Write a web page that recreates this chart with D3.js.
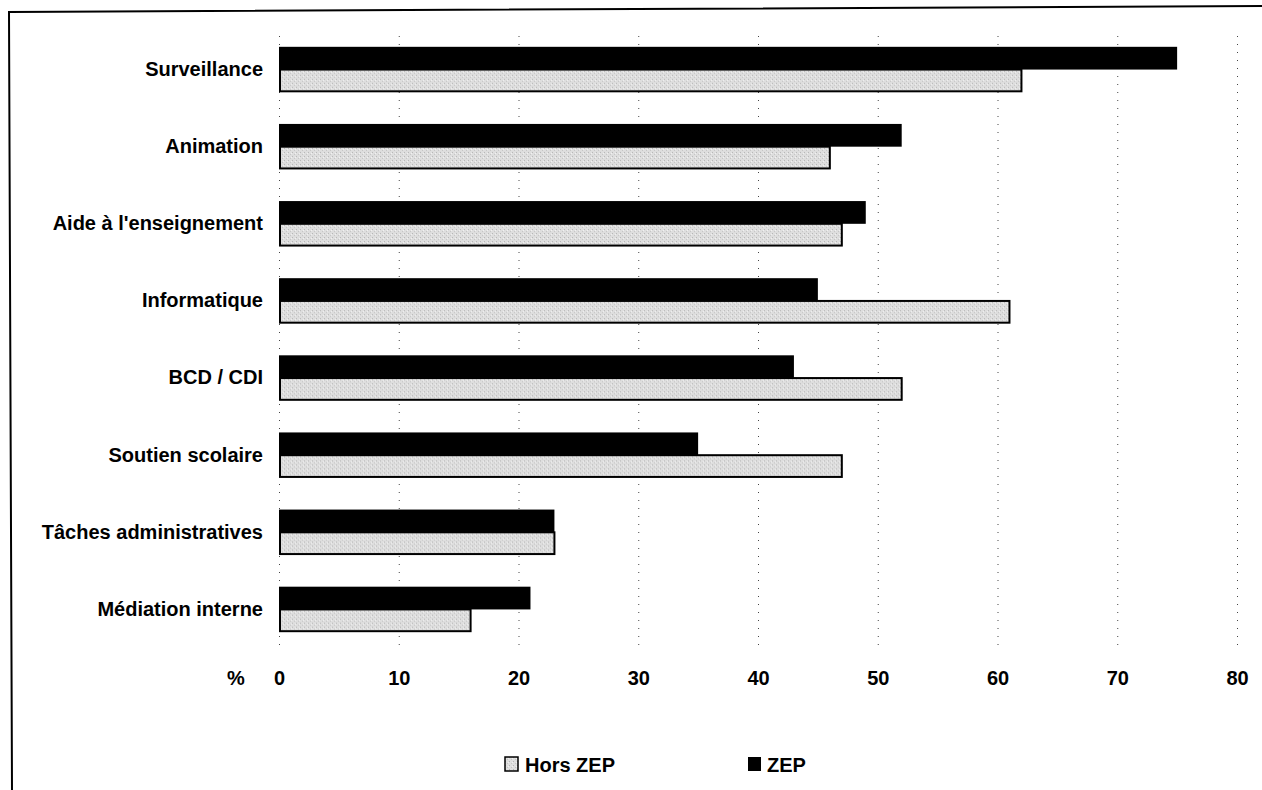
<!DOCTYPE html>
<html>
<head>
<meta charset="utf-8">
<script src="https://cdn.jsdelivr.net/npm/d3@7"></script>
<style>
  html, body { margin: 0; padding: 0; background: #fff; }
  svg { display: block; }
  text { font-family: "Liberation Sans", Arial, Helvetica, sans-serif; font-weight: bold; fill: #000; }
</style>
</head>
<body>
<svg id="chart" width="1262" height="790"></svg>
<script>
// ---- data ----
const categories = ["Surveillance", "Animation", "Aide à l'enseignement", "Informatique",
                    "BCD / CDI", "Soutien scolaire", "Tâches administratives", "Médiation interne"];
const horsZep = [62, 46, 47, 61, 52, 47, 23, 16];
const zep     = [75, 52, 49, 45, 43, 35, 23, 21];
const xTicks  = [0, 10, 20, 30, 40, 50, 60, 70, 80];
const seriesNames = ["Hors ZEP", "ZEP"];
const unitLabel = "%";

// ---- setup ----
const svg = d3.select("#chart");
const W = 1262, H = 790;

const x = d3.scaleLinear().domain([0, 80]).range([279, 1237]);
const y = d3.scaleBand().domain(categories).range([31, 648]).paddingInner(0.41).paddingOuter(0.205);
const ySub = d3.scaleBand().domain(["ZEP", "Hors ZEP"]).range([0, y.bandwidth()]);

// pattern for light grey speckled bars
const defs = svg.append("defs");
const pat = defs.append("pattern").attr("id", "speckle").attr("patternUnits", "userSpaceOnUse")
  .attr("width", 4).attr("height", 4);
pat.append("rect").attr("width", 4).attr("height", 4).attr("fill", "#dedede");
pat.append("rect").attr("x", 0).attr("y", 0).attr("width", 1).attr("height", 1).attr("fill", "#b5b5b5");
pat.append("rect").attr("x", 2).attr("y", 2).attr("width", 1).attr("height", 1).attr("fill", "#c4c4c4");
pat.append("rect").attr("x", 3).attr("y", 1).attr("width", 1).attr("height", 1).attr("fill", "#f2f2f2");

// outer frame (scanned, slightly tilted)
svg.append("path")
  .attr("d", "M1262,6 L9,12 L12,790")
  .attr("fill", "none").attr("stroke", "#000").attr("stroke-width", 2);

// gridlines
const gridTop = 32, gridBottom = 645;
svg.append("g")
  .attr("transform", `translate(0,${gridBottom})`)
  .call(d3.axisBottom(x).tickValues(xTicks).tickSize(-(gridBottom - gridTop)).tickFormat(""))
  .call(g => g.select(".domain").remove())
  .call(g => g.selectAll("line").attr("stroke", "#444").attr("stroke-width", 1).attr("stroke-dasharray", "1,7"));

// bars
const rows = categories.map((c, i) => ({ cat: c, "Hors ZEP": horsZep[i], "ZEP": zep[i] }));
const groups = svg.append("g").selectAll("g").data(rows).join("g")
  .attr("transform", d => `translate(0,${y(d.cat)})`);

groups.append("rect")
  .attr("x", x(0))
  .attr("y", ySub("ZEP"))
  .attr("width", d => x(d["ZEP"]) - x(0))
  .attr("height", ySub.bandwidth())
  .attr("fill", "#000");

groups.append("rect")
  .attr("x", x(0) + 1)
  .attr("y", ySub("Hors ZEP"))
  .attr("width", d => x(d["Hors ZEP"]) - x(0) - 1)
  .attr("height", ySub.bandwidth() - 1)
  .attr("fill", "url(#speckle)")
  .attr("stroke", "#000").attr("stroke-width", 2);

// category axis
svg.append("g")
  .attr("transform", `translate(${x(0)},0)`)
  .call(d3.axisLeft(y).tickSize(0).tickPadding(16))
  .call(g => g.select(".domain").remove())
  .call(g => g.selectAll("text").style("font-size", "20px").attr("fill", "#000"));

// value axis
svg.append("g")
  .attr("transform", `translate(0,671)`)
  .call(d3.axisBottom(x).tickValues(xTicks).tickSize(0).tickPadding(0).tickFormat(d3.format("d")))
  .call(g => g.select(".domain").remove())
  .call(g => g.selectAll("text").style("font-size", "20px").attr("fill", "#000"));

svg.append("text").attr("x", 236).attr("y", 685).attr("text-anchor", "middle")
  .style("font-size", "20px").text(unitLabel);

// legend
const legendX = [505, 748];
const legend = svg.append("g").selectAll("g").data(seriesNames).join("g")
  .attr("transform", (d, i) => `translate(${legendX[i]},757)`);
legend.append("rect").attr("x", 0).attr("y", 0).attr("width", 13).attr("height", 14)
  .attr("fill", (d, i) => i === 0 ? "url(#speckle)" : "#000")
  .attr("stroke", "#000").attr("stroke-width", (d, i) => i === 0 ? 1.5 : 0);
legend.append("text").attr("x", (d, i) => i === 0 ? 20 : 19).attr("y", 15)
  .style("font-size", "20px").text(d => d);
</script>
</body>
</html>
